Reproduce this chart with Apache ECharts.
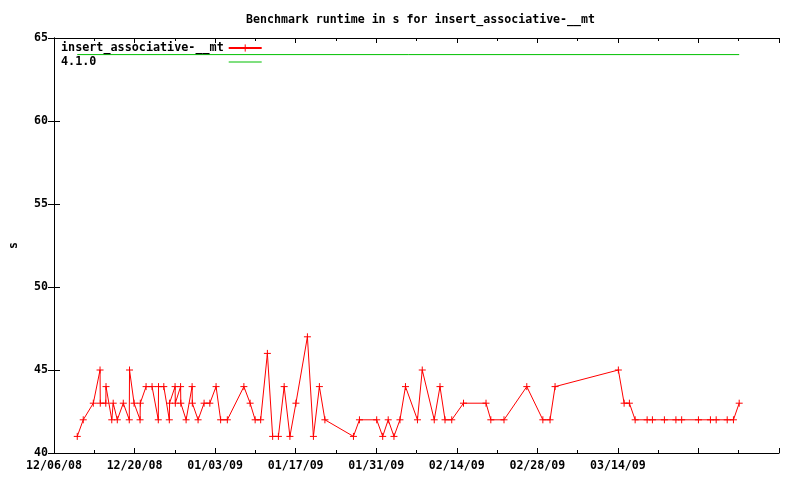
<!DOCTYPE html>
<html><head><meta charset="utf-8">
<script src="https://cdn.jsdelivr.net/npm/echarts@6/dist/echarts.min.js"></script>
<style>html,body{margin:0;padding:0;background:#fff}#c{width:800px;height:480px}</style>
</head><body><div id="c"></div>
<script>
const chartTitle = 'Benchmark runtime in s for insert_associative-__mt';
const seriesName = 'insert_associative-__mt';
const runDates = [
 '2008-12-10 01:00','2008-12-11 02:00','2008-12-12 20:00','2008-12-14 00:00','2008-12-14 01:00',
 '2008-12-15 00:00','2008-12-15 01:00','2008-12-16 01:00','2008-12-16 07:00','2008-12-17 00:00',
 '2008-12-18 01:00','2008-12-19 02:00','2008-12-19 03:00','2008-12-19 22:00','2008-12-20 23:00',
 '2008-12-21 00:00','2008-12-22 00:00','2008-12-23 01:00','2008-12-24 03:00','2008-12-24 04:00',
 '2008-12-25 02:00','2008-12-26 01:00','2008-12-26 02:00','2008-12-27 01:00','2008-12-27 02:00',
 '2008-12-28 00:00','2008-12-28 01:00','2008-12-28 23:00','2008-12-30 00:00','2008-12-30 01:00',
 '2008-12-31 01:00','2009-01-01 02:00','2009-01-02 02:00','2009-01-03 04:00','2009-01-03 23:00',
 '2009-01-05 03:00','2009-01-08 00:00','2009-01-09 02:00','2009-01-09 23:00','2009-01-10 22:00',
 '2009-01-12 02:00','2009-01-13 00:00','2009-01-14 00:00','2009-01-15 00:00','2009-01-16 00:00',
 '2009-01-17 01:00','2009-01-19 01:00','2009-01-20 02:00','2009-01-21 03:00','2009-01-22 02:00',
 '2009-01-27 01:00','2009-01-28 02:00','2009-01-31 02:00','2009-02-01 03:00','2009-02-02 02:00',
 '2009-02-03 02:00','2009-02-04 03:00','2009-02-05 02:00','2009-02-07 04:00','2009-02-08 00:00',
 '2009-02-10 02:00','2009-02-11 02:00','2009-02-11 23:00','2009-02-13 03:00','2009-02-15 04:00',
 '2009-02-19 02:00','2009-02-19 22:00','2009-02-22 05:00','2009-02-26 04:00','2009-02-28 23:00',
 '2009-03-02 05:00','2009-03-03 02:00','2009-03-14 02:00','2009-03-15 02:00','2009-03-16 00:00',
 '2009-03-17 00:00','2009-03-19 02:00','2009-03-20 00:00','2009-03-22 02:00','2009-03-24 02:00',
 '2009-03-25 02:00','2009-03-28 00:00','2009-03-30 02:00','2009-03-31 02:00','2009-04-02 00:00',
 '2009-04-03 02:00','2009-04-04 02:00'
];
const runtimeSeconds = [
 41,42,43,45,43,
 43,44,42,43,42,
 43,42,45,43,42,
 43,44,44,42,44,
 44,42,43,44,43,
 44,43,42,44,43,
 42,43,43,44,42,
 42,44,43,42,42,
 46,41,41,44,41,
 43,47,41,44,42,
 41,42,42,41,42,
 41,42,44,42,45,
 42,44,42,42,43,
 43,42,42,44,42,
 42,44,45,43,43,
 42,42,42,42,42,
 42,42,42,42,42,
 42,43
];
const releaseName = '4.1.0';
const releaseDates = ['2008-12-10 01:00','2009-04-04 02:00'];
const releaseValues = [64, 64];
const tickLabels = ['12/06/08','12/20/08','01/03/09','01/17/09','01/31/09','02/14/09','02/28/09','03/14/09'];
const axisStart = '2008-12-06 00:00';
const axisEnd = '2009-04-11 00:00';
const tickDays = 14;
const yMin = 40, yMax = 65, yStep = 5;

function ms(s){const [d,t]=s.split(' ');const [Y,M,D]=d.split('-').map(Number);const [h,m]=t.split(':').map(Number);return Date.UTC(Y,M-1,D,h,m);}
const base = ms(axisStart);
const toDay = s => (ms(s)-base)/864e5;
const xMax = toDay(axisEnd);

const FONT = 'DejaVu Sans Mono';
const txt = {color:'#000', fontFamily:FONT, fontSize:11.6, fontWeight:'bold'};
const legTxt = Object.assign({}, txt, {fontSize:11.75});
const cross = 'path://M0,5L10,5M5,0L5,10';
const padLen = Math.max(seriesName.length, releaseName.length);
const legendFmt = n => n.padEnd(padLen, ' ');

const xCommon = {type:'value', min:0, max:xMax, interval:tickDays,
  axisLine:{lineStyle:{color:'#000',width:1}},
  axisTick:{inside:true,length:5,lineStyle:{color:'#000'}},
  minorTick:{show:true,splitNumber:2,length:3,lineStyle:{color:'#000'}},
  splitLine:{show:false}, minorSplitLine:{show:false}};
const yCommon = {type:'value', min:yMin, max:yMax, interval:yStep,
  axisLine:{show:true,lineStyle:{color:'#000',width:1}},
  axisTick:{show:true,inside:true,length:6,lineStyle:{color:'#000'}},
  splitLine:{show:false}};

const chart = echarts.init(document.getElementById('c'), null, {renderer:'canvas'});
chart.setOption({
  animation:false,
  backgroundColor:'#fff',
  title:{text:chartTitle, left:241, top:9, textStyle:Object.assign({}, txt)},
  grid:{left:54, top:38, right:21, bottom:27, containLabel:false, outerBoundsMode:'none'},
  legend:[
    {data:[seriesName], left:61, top:42, align:'right', itemWidth:33, itemHeight:9, padding:0,
     formatter:legendFmt, textStyle:legTxt, itemStyle:{borderWidth:1}, selectedMode:false},
    {data:[{name:releaseName, icon:'rect'}], left:61, top:56, align:'right', itemWidth:33, itemHeight:1, padding:0,
     formatter:legendFmt, textStyle:legTxt, selectedMode:false}
  ],
  xAxis:[
    Object.assign({}, xCommon, {position:'bottom',
      axisLabel:Object.assign({}, txt, {margin:7, formatter:v => tickLabels[Math.round(v/tickDays)] || ''})}),
    Object.assign({}, xCommon, {position:'top', axisLabel:{show:false}})
  ],
  yAxis:[
    Object.assign({}, yCommon, {position:'left', name:'s', nameLocation:'middle', nameGap:34,
      nameTextStyle:txt, axisLabel:Object.assign({}, txt, {margin:6})}),
    Object.assign({}, yCommon, {position:'right', axisLabel:{show:false}})
  ],
  series:[
    {name:seriesName, type:'line', xAxisIndex:0, yAxisIndex:0,
     data:runDates.map((d,i)=>[toDay(d), runtimeSeconds[i]]),
     symbol:cross, symbolSize:7, showSymbol:true, showAllSymbol:true,
     lineStyle:{color:'#ff0000', width:1},
     itemStyle:{color:'#ff0000', borderColor:'#ff0000', borderWidth:1},
     emphasis:{disabled:true}},
    {name:releaseName, type:'line', xAxisIndex:0, yAxisIndex:0,
     data:releaseDates.map((d,i)=>[toDay(d), releaseValues[i]]),
     symbol:'none', lineStyle:{color:'#00c000', width:1}, itemStyle:{color:'#00c000'},
     emphasis:{disabled:true}}
  ]
});
</script></body></html>
